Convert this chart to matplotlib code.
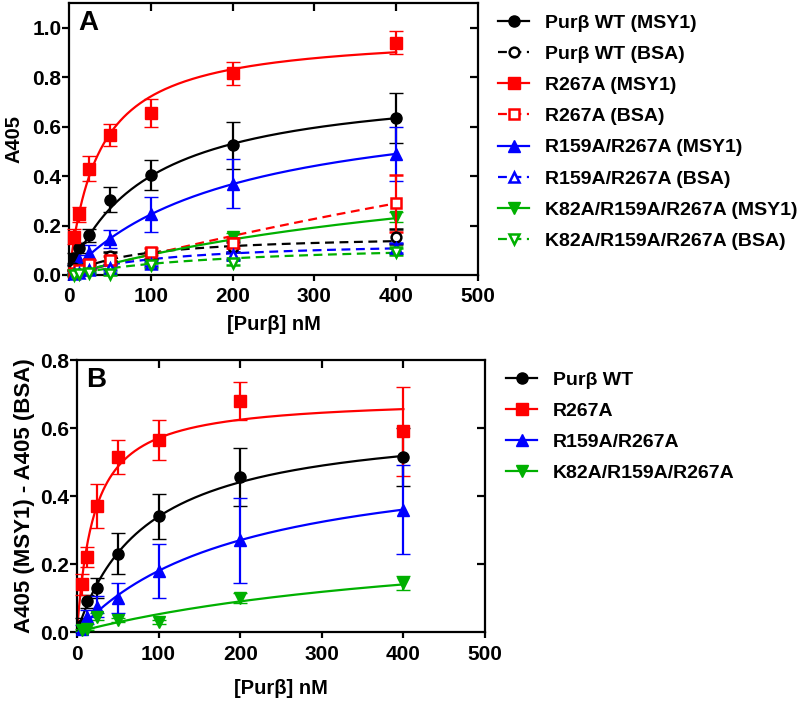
import numpy as np
import matplotlib
matplotlib.use("Agg")
import matplotlib.pyplot as plt
from matplotlib.lines import Line2D

plt.rcParams['font.family'] = ['Liberation Sans', 'DejaVu Sans']
plt.rcParams['font.weight'] = 'bold'

# ---------------- data ----------------
conc = [6.25, 12.5, 25, 50, 100, 200, 400]

# Panel A (MSY1)
wt_msy1 = [0.07, 0.11, 0.16, 0.305, 0.405, 0.525, 0.635]
wt_msy1_err = [0.02, 0.02, 0.025, 0.05, 0.06, 0.095, 0.10]
r267_msy1 = [0.155, 0.245, 0.43, 0.565, 0.655, 0.815, 0.94]
r267_msy1_err = [0.03, 0.03, 0.05, 0.045, 0.055, 0.045, 0.045]
r159_msy1 = [0.03, 0.06, 0.09, 0.145, 0.245, 0.37, 0.49]
r159_msy1_err = [0.01, 0.02, 0.03, 0.035, 0.07, 0.10, 0.11]
k82_msy1 = [0.01, 0.02, 0.03, 0.05, 0.08, 0.155, 0.235]
k82_msy1_err = [0.005, 0.01, 0.01, 0.01, 0.015, 0.015, 0.02]
# Panel A (BSA)
wt_bsa = [0.03, 0.02, 0.035, 0.075, 0.08, 0.115, 0.155]
wt_bsa_err = [0.01, 0.01, 0.01, 0.02, 0.015, 0.02, 0.03]
r267_bsa = [0.01, 0.02, 0.045, 0.06, 0.095, 0.13, 0.29]
r267_bsa_err = [0.01, 0.01, 0.015, 0.015, 0.015, 0.02, 0.115]
r159_bsa = [0.005, 0.01, 0.02, 0.03, 0.045, 0.08, 0.11]
r159_bsa_err = [0.005, 0.005, 0.01, 0.01, 0.01, 0.015, 0.02]
k82_bsa = [0.0, 0.005, 0.01, 0.005, 0.04, 0.05, 0.095]
k82_bsa_err = [0.003, 0.003, 0.005, 0.005, 0.01, 0.01, 0.015]

# Panel B (MSY1 - BSA)
wt_diff = [0.02, 0.09, 0.13, 0.23, 0.34, 0.455, 0.515]
wt_diff_err = [0.02, 0.02, 0.03, 0.06, 0.065, 0.085, 0.085]
r267_diff = [0.14, 0.22, 0.37, 0.515, 0.565, 0.68, 0.59]
r267_diff_err = [0.03, 0.03, 0.065, 0.05, 0.06, 0.055, 0.13]
r159_diff = [0.01, 0.045, 0.075, 0.10, 0.18, 0.27, 0.36]
r159_diff_err = [0.01, 0.02, 0.03, 0.045, 0.08, 0.125, 0.13]
k82_diff = [0.005, 0.01, 0.045, 0.035, 0.03, 0.10, 0.145]
k82_diff_err = [0.003, 0.003, 0.01, 0.005, 0.005, 0.015, 0.02]

# one-site binding fit parameters (Bmax, Kd)
fit_A_msy1 = {'wt': (0.788, 97), 'r267': (0.982, 36), 'r159': (0.735, 200), 'k82': (0.575, 600)}
fit_A_bsa = {'wt': (0.165, 82), 'r267': (1.74, 2000), 'r159': (0.14, 120), 'k82': (0.135, 200)}
fit_B = {'wt': (0.628, 85), 'r267': (0.69, 21), 'r159': (0.54, 200), 'k82': (0.315, 500)}

labels_A = ['Purβ WT (MSY1)', 'Purβ WT (BSA)', 'R267A (MSY1)', 'R267A (BSA)',
            'R159A/R267A (MSY1)', 'R159A/R267A (BSA)',
            'K82A/R159A/R267A (MSY1)', 'K82A/R159A/R267A (BSA)']
labels_B = ['Purβ WT', 'R267A', 'R159A/R267A', 'K82A/R159A/R267A']

# ---------------- styles ----------------
GREEN = '#00B000'
colors = {'wt': 'black', 'r267': '#FF0000', 'r159': '#0000FF', 'k82': GREEN}
mk = {'wt': 'o', 'r267': 's', 'r159': '^', 'k82': 'v'}
msz = {'wt': 8, 'r267': 8, 'r159': 8.5, 'k82': 8.5}
DASH = (0, (4, 2.5))
TICK_FS = 15
LEG_FS = 14

fig = plt.figure(figsize=(8, 7.02), dpi=100)
W, H = 800, 702
def ax_rect(l, r, t, b):
    return [l / W, 1 - b / H, (r - l) / W, (b - t) / H]

axA = fig.add_axes(ax_rect(69, 478, 3, 275))
axB = fig.add_axes(ax_rect(77, 485, 360, 632))

xs = np.linspace(0, 400, 300)

def curve(ax, p, color, ls):
    bmax, kd = p
    ax.plot(xs, bmax * xs / (kd + xs), color=color, lw=1.6, ls=ls, zorder=2)

def points(ax, y, e, key, open_=False):
    c = colors[key]
    ax.errorbar(conc, y, yerr=e, fmt=mk[key], color=c, ecolor=c, elinewidth=1.6,
                capsize=5, capthick=1.6, ms=msz[key] - (1 if open_ else 0),
                mfc='white' if open_ else c, mec=c, mew=1.8 if open_ else 1,
                zorder=4 if open_ else 3, clip_on=False)

keys = ['wt', 'r267', 'r159', 'k82']
dataA_msy1 = {'wt': (wt_msy1, wt_msy1_err), 'r267': (r267_msy1, r267_msy1_err),
              'r159': (r159_msy1, r159_msy1_err), 'k82': (k82_msy1, k82_msy1_err)}
dataA_bsa = {'wt': (wt_bsa, wt_bsa_err), 'r267': (r267_bsa, r267_bsa_err),
             'r159': (r159_bsa, r159_bsa_err), 'k82': (k82_bsa, k82_bsa_err)}
dataB = {'wt': (wt_diff, wt_diff_err), 'r267': (r267_diff, r267_diff_err),
         'r159': (r159_diff, r159_diff_err), 'k82': (k82_diff, k82_diff_err)}

for k in keys:
    curve(axA, fit_A_msy1[k], colors[k], '-')
    curve(axA, fit_A_bsa[k], colors[k], DASH)
for k in keys:
    points(axA, *dataA_msy1[k], k)
for k in keys:
    points(axA, *dataA_bsa[k], k, open_=True)

for k in keys:
    curve(axB, fit_B[k], colors[k], '-')
    points(axB, *dataB[k], k)

def style(ax, ylim, yticks, xlabelpad):
    ax.set_xlim(0, 500)
    ax.set_ylim(*ylim)
    ax.set_xticks([0, 100, 200, 300, 400, 500])
    ax.set_yticks(yticks)
    ax.set_yticklabels([f'{v:.1f}' for v in yticks])
    for s in ax.spines.values():
        s.set_linewidth(1.6)
    ax.tick_params(axis='y', direction='out', length=5, width=1.6, labelsize=TICK_FS, pad=0.5)
    ax.tick_params(axis='x', direction='out', length=4, width=1.6, labelsize=TICK_FS, pad=5)
    for lab in ax.get_xticklabels() + ax.get_yticklabels():
        lab.set_fontweight('bold')
    # inward mirror ticks on top and right
    sec_x = ax.secondary_xaxis('top')
    sec_x.set_xticks([100, 200, 300, 400])
    sec_x.tick_params(direction='in', length=6, width=1.6, labeltop=False)
    sec_x.spines['top'].set_visible(False)
    sec_y = ax.secondary_yaxis('right')
    sec_y.set_yticks([v for v in yticks[1:] if v < ylim[1] - 1e-9])
    sec_y.tick_params(direction='in', length=6, width=1.6, labelright=False)
    sec_y.spines['right'].set_visible(False)
    ax.set_xlabel('[Purβ] nM', fontsize=14.5, fontweight='bold', labelpad=xlabelpad)

style(axA, (0, 1.1), [0.0, 0.2, 0.4, 0.6, 0.8, 1.0], 6)
style(axB, (0, 0.8), [0.0, 0.2, 0.4, 0.6, 0.8], 11)
axA.set_ylabel('A405', fontsize=14.5, fontweight='bold', labelpad=6)
axB.set_ylabel('A405 (MSY1) - A405 (BSA)', fontsize=16, fontweight='bold', labelpad=4)

axA.text(0.022, 0.975, 'A', transform=axA.transAxes, fontsize=20, fontweight='bold',
         va='top', ha='left')
axB.text(0.022, 0.975, 'B', transform=axB.transAxes, fontsize=20, fontweight='bold',
         va='top', ha='left')

# ---------------- legends ----------------
def handle(k, open_, dashed):
    c = colors[k]
    return Line2D([], [], color=c, ls=DASH if dashed else '-', lw=1.6, marker=mk[k],
                  ms=msz[k] - (1 if open_ else 0), mfc='white' if open_ else c,
                  mec=c, mew=1.8 if open_ else 1)

hA = []
for k in keys:
    hA.append(handle(k, False, False))
    hA.append(handle(k, True, True))
legA = fig.legend(hA, labels_A, loc='upper left', bbox_to_anchor=(498 / W, 1 - 14 / H),
                  frameon=False, fontsize=LEG_FS, handlelength=1.6, handletextpad=0.8,
                  labelspacing=0.7, borderaxespad=0, borderpad=0)
hB = [handle(k, False, False) for k in keys]
legB = fig.legend(hB, labels_B, loc='upper left', bbox_to_anchor=(506 / W, 1 - 371 / H),
                  frameon=False, fontsize=LEG_FS, handlelength=1.6, handletextpad=0.8,
                  labelspacing=0.7, borderaxespad=0, borderpad=0)
for leg in (legA, legB):
    for t in leg.get_texts():
        t.set_fontweight('bold')

fig.savefig('out.png', dpi=100)
